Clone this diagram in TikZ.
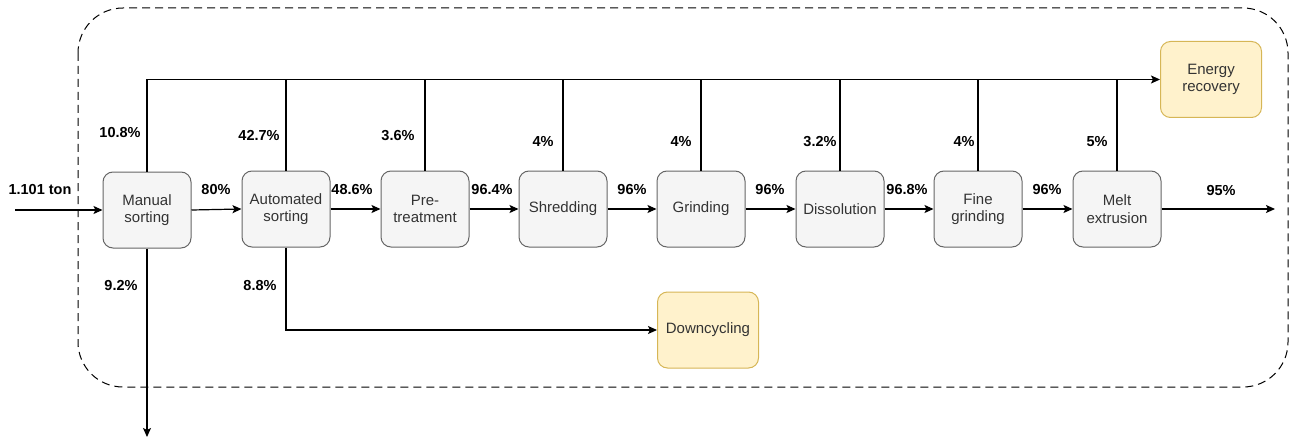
\documentclass[tikz,border=0pt]{standalone}
\usepackage{fontspec}
\setmainfont{Liberation Sans}
\usetikzlibrary{arrows.meta}
\definecolor{boxfill}{HTML}{F5F5F5}
\definecolor{boxline}{HTML}{666666}
\definecolor{boxtext}{HTML}{333333}
\definecolor{endfill}{HTML}{FFF2CC}
\definecolor{endline}{HTML}{D6B656}
\begin{document}
\begin{tikzpicture}[x=1pt,y=-1pt,
  font=\fontsize{15}{17.5}\selectfont,
  stepbox/.style={draw=boxline, fill=boxfill, text=boxtext, rounded corners=10pt,
    line width=1pt, minimum width=88pt, minimum height=76pt, align=center, inner sep=2pt},
  endbox/.style={draw=endline, fill=endfill, text=boxtext, rounded corners=10pt,
    line width=1pt, minimum width=101pt, minimum height=76pt, align=center, inner sep=2pt},
  flow/.style={line width=1.2pt, -{Stealth[length=9pt,width=8pt,inset=2pt]}},
  link/.style={line width=1.2pt},
  pct/.style={font=\fontsize{14.5}{17}\selectfont\bfseries, inner sep=0pt}]
\useasboundingbox (0,0) rectangle (1293,441);

% system boundary
\draw[line width=1pt, dash pattern=on 8pt off 5pt, rounded corners=45pt] (78,8) rectangle (1288,387);

% process chain
\node[stepbox] (ms) at (147,210) {Manual\\sorting};
\node[stepbox] (as) at (286,209) {Automated\\sorting};
\node[stepbox] (pt) at (425,209) {Pre-\\treatment};
\node[stepbox] (sh) at (563,209) {Shredding};
\node[stepbox] (gr) at (701,209) {Grinding};
\node[stepbox] (di) at (840,209) {Dissolution};
\node[stepbox] (fg) at (978,209) {Fine\\grinding};
\node[stepbox] (me) at (1117,209) {Melt\\extrusion};

% end-of-life sinks
\node[endbox] (er) at (1211,79.5) {Energy\\recovery};
\node[endbox] (dc) at (708,330) {Downcycling};

% free ends
\coordinate (in) at (15,210);
\coordinate (out) at (1275,209);
\coordinate (loss) at (147,437);

% main flow
\draw[flow] (in) -- (ms.west);
\draw[flow] (ms.east) -- (as.west);
\draw[flow] (as.east) -- (pt.west);
\draw[flow] (pt.east) -- (sh.west);
\draw[flow] (sh.east) -- (gr.west);
\draw[flow] (gr.east) -- (di.west);
\draw[flow] (di.east) -- (fg.west);
\draw[flow] (fg.east) -- (me.west);
\draw[flow] (me.east) -- (out);

% side streams to energy recovery
\draw[flow] (ms.north) |- (er.west);
\foreach \n in {as,pt,sh,gr,di,fg,me}
  \draw[link] (\n.north) -- (\n.north |- er.west);

% rejects
\draw[flow] (ms.south) -- (loss);
\draw[flow] (as.south) |- (dc.west);

% flow shares
\node[pct] (l0) at (40,190) {1.101 ton};
\node[pct] (l1) at (216,190) {80\%};
\node[pct] (l2) at (352,190) {48.6\%};
\node[pct] (l3) at (492,190) {96.4\%};
\node[pct] (l4) at (632,190) {96\%};
\node[pct] (l5) at (770,190) {96\%};
\node[pct] (l6) at (907,190) {96.8\%};
\node[pct] (l7) at (1047,190) {96\%};
\node[pct] (l8) at (1221,191) {95\%};

\node[pct] (t1) at (120,133) {10.8\%};
\node[pct] (t2) at (259,135) {42.7\%};
\node[pct] (t3) at (398,136) {3.6\%};
\node[pct] (t4) at (543,142) {4\%};
\node[pct] (t5) at (681,142) {4\%};
\node[pct] (t6) at (820,142) {3.2\%};
\node[pct] (t7) at (964,142) {4\%};
\node[pct] (t8) at (1097,142) {5\%};

\node[pct] (b1) at (121,286) {9.2\%};
\node[pct] (b2) at (260,286) {8.8\%};
\end{tikzpicture}
\end{document}
